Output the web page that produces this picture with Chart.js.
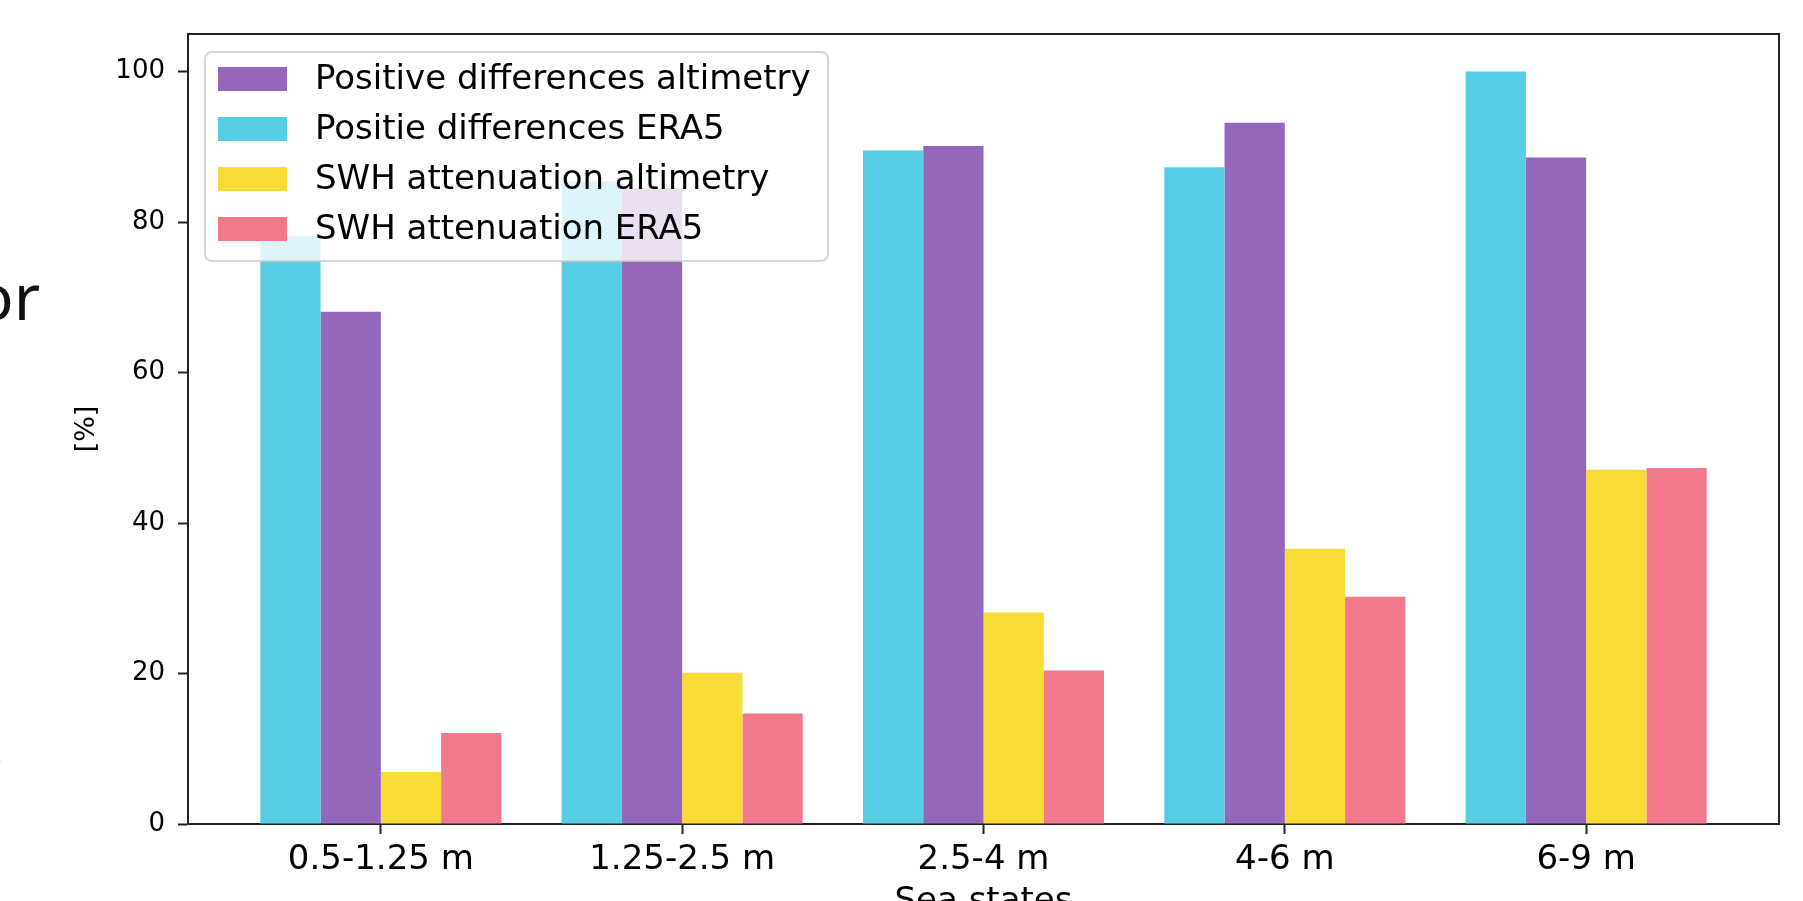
<!DOCTYPE html>
<html>
<head>
<meta charset="utf-8">
<script src="https://cdn.jsdelivr.net/npm/chart.js@4"></script>
<style>
  html, body { margin: 0; padding: 0; background: #fff; overflow: hidden; }
  #wrap { position: relative; width: 1803px; height: 901px; }
  .side { position: absolute; font-family: 'Noto Sans', sans-serif; font-size: 64px; color: #111; line-height: 1; }
</style>
</head>
<body>
<div id="wrap">
  <canvas id="seaChart" width="1803" height="901"></canvas>
  <div class="side" style="left:-25px; top:264px;">or</div>
  <div class="side" style="left:-12px; top:712px;">,</div>
</div>
<script>
const categories = ['0.5-1.25 m', '1.25-2.5 m', '2.5-4 m', '4-6 m', '6-9 m'];
const posEra5 = [78.2, 85.4, 89.5, 87.3, 100.0];
const posAltimetry = [68.1, 84.5, 90.1, 93.2, 88.6];
const attAltimetry = [6.9, 20.1, 28.1, 36.6, 47.1];
const attEra5 = [12.1, 14.7, 20.4, 30.2, 47.3];
const yTicks = [0, 20, 40, 60, 80, 100];

// matplotlib style x range around the groups
const X_MIN = -0.64;
const X_MAX = 4.64;
const FONT = "'DejaVu Sans', sans-serif";

const frame = {
  id: 'frame',
  afterDraw(chart) {
    const { ctx, chartArea: a } = chart;
    ctx.save();
    ctx.strokeStyle = '#222';
    ctx.lineWidth = 2;
    ctx.beginPath();
    ctx.moveTo(a.left, a.top);
    ctx.lineTo(a.right, a.top);
    ctx.lineTo(a.right, a.bottom);
    ctx.stroke();
    ctx.restore();
  }
};

const boxLegend = {
  id: 'boxLegend',
  afterDatasetsDraw(chart) {
    const { ctx, chartArea: a } = chart;
    const order = [1, 0, 2, 3];
    const x = a.left + 17, y = a.top + 18, w = 623, h = 209, r = 7;
    ctx.save();
    ctx.beginPath();
    ctx.roundRect(x, y, w, h, r);
    ctx.fillStyle = 'rgba(255,255,255,0.8)';
    ctx.fill();
    ctx.strokeStyle = 'rgba(204,204,204,0.8)';
    ctx.lineWidth = 2;
    ctx.stroke();
    ctx.font = '34px ' + FONT;
    ctx.textBaseline = 'middle';
    order.forEach((di, i) => {
      const ds = chart.data.datasets[di];
      const rowTop = y + 15 + i * 50;
      ctx.fillStyle = ds.backgroundColor;
      ctx.fillRect(x + 13, rowTop, 69, 24);
      ctx.fillStyle = '#000';
      ctx.fillText(ds.label, x + 110, rowTop + 13);
    });
    ctx.restore();
  }
};

new Chart(document.getElementById('seaChart'), {
  type: 'bar',
  data: {
    labels: categories,
    datasets: [
      { label: 'Positie differences ERA5', data: posEra5, backgroundColor: '#56CDE3' },
      { label: 'Positive differences altimetry', data: posAltimetry, backgroundColor: '#9467BB' },
      { label: 'SWH attenuation altimetry', data: attAltimetry, backgroundColor: '#F8DC36' },
      { label: 'SWH attenuation ERA5', data: attEra5, backgroundColor: '#F1788D' }
    ]
  },
  options: {
    responsive: false,
    animation: false,
    layout: { padding: { top: 34, right: 24, left: 0, bottom: 0 } },
    datasets: { bar: { categoryPercentage: 0.8, barPercentage: 1.0, borderWidth: 0 } },
    plugins: { legend: { display: false }, tooltip: { enabled: false } },
    scales: {
      x: {
        offset: true,
        afterBuildTicks: (scale) => {
          scale._startValue = X_MIN;
          scale._valueRange = X_MAX - X_MIN;
        },
        afterFit: (scale) => { scale.height = 77; },
        grid: { display: true, offset: false, drawOnChartArea: false, drawTicks: true, tickLength: 10, tickColor: '#222', tickWidth: 2 },
        border: { display: true, color: '#222', width: 2 },
        ticks: { color: '#000', font: { family: FONT, size: 34 }, padding: 6, maxRotation: 0 },
        title: { display: true, text: 'Sea states', color: '#000', font: { family: FONT, size: 34 }, padding: { top: 0, bottom: -22 } }
      },
      y: {
        min: 0,
        max: 105,
        afterFit: (scale) => { scale.width = 188; },
        afterBuildTicks: (scale) => { scale.ticks = yTicks.map(v => ({ value: v })); },
        grid: { display: true, drawOnChartArea: false, drawTicks: true, tickLength: 10, tickColor: '#222', tickWidth: 2 },
        border: { display: true, color: '#222', width: 2 },
        ticks: { color: '#000', font: { family: FONT, size: 26 }, padding: 13 },
        title: { display: true, text: '[%]', color: '#000', font: { family: FONT, size: 27 }, padding: { top: 71, bottom: 0 } }
      }
    }
  },
  plugins: [boxLegend, frame]
});
</script>
</body>
</html>
